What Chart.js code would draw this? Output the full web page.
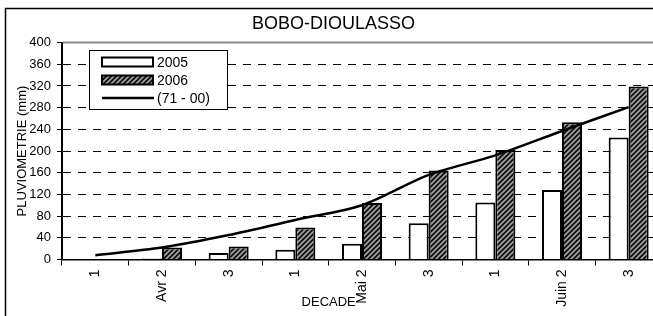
<!DOCTYPE html>
<html>
<head>
<meta charset="utf-8">
<script src="https://cdn.jsdelivr.net/npm/chart.js@4/dist/chart.umd.min.js"></script>
<style>
  html, body { margin: 0; padding: 0; background: #fff; overflow: hidden; }
  canvas { display: block; }
</style>
</head>
<body>
<canvas id="c" width="664" height="316"></canvas>
<script>
// ---- data ----
const categories = ["1", "Avr 2", "3", "1", "Mai 2", "3", "1", "Juin 2", "3"];
const rain2005 = [0.5, 2, 12, 18, 29, 67, 105, 128, 225];
const rain2006 = [1, 22, 24, 59, 104, 164, 202, 253, 319];
const normal7100 = [8, 22, 45, 73, 100, 156, 192, 237, 281];
const seriesLabels = ["2005", "2006", "(71 - 00)"];
const chartTitle = "BOBO-DIOULASSO";
const xTitle = "DECADE";
const yTitle = "PLUVIOMETRIE (mm)";

const FONT = "'Liberation Sans', Arial, sans-serif";
Chart.defaults.font.family = FONT;
Chart.defaults.color = "#000";

function makeHatch() {
  const s = 5;
  const c = document.createElement("canvas");
  c.width = s; c.height = s;
  const g = c.getContext("2d");
  g.fillStyle = "#111";
  g.fillRect(0, 0, s, s);
  g.strokeStyle = "#a0a0a0";
  g.lineWidth = 1.7;
  g.beginPath();
  g.moveTo(-1, s + 1); g.lineTo(s + 1, -1);
  g.moveTo(-2, 2); g.lineTo(2, -2);
  g.moveTo(s - 2, s + 2); g.lineTo(s + 2, s - 2);
  g.stroke();
  return g.createPattern(c, "repeat");
}
const hatch = makeHatch();

const framePlugin = {
  id: "frame",
  beforeDraw(chart) {
    const ctx = chart.ctx;
    ctx.save();
    ctx.fillStyle = "#fff";
    ctx.fillRect(0, 0, chart.width, chart.height);
    ctx.strokeStyle = "#000";
    ctx.lineWidth = 1.5;
    ctx.beginPath();
    ctx.moveTo(5.5, chart.height + 5);
    ctx.lineTo(5.5, 8.5);
    ctx.lineTo(chart.width + 5, 8.5);
    ctx.stroke();
    ctx.restore();
  },
  afterDraw(chart) {
    const ctx = chart.ctx;
    const a = chart.chartArea;
    ctx.save();
    // plot-area top border (gray)
    ctx.strokeStyle = "#8c8c8c";
    ctx.lineWidth = 2;
    ctx.beginPath();
    ctx.moveTo(a.left + 1, a.top);
    ctx.lineTo(chart.width + 5, a.top);
    ctx.stroke();
    // x axis title
    const xs = chart.scales.x;
    ctx.fillStyle = "#000";
    ctx.font = "13px " + FONT;
    ctx.textAlign = "center";
    ctx.textBaseline = "middle";
    ctx.fillText(xTitle, xs.getPixelForValue(3.5), 302);
    // legend box
    const lx = 89, ly = 50, lw = 138, lh = 59;
    ctx.fillStyle = "#fff";
    ctx.fillRect(lx, ly, lw, lh);
    ctx.strokeStyle = "#000";
    ctx.lineWidth = 1;
    ctx.strokeRect(lx + 0.5, ly + 0.5, lw, lh);
    const ds = chart.data.datasets;
    const rows = [62, 80, 98];
    ctx.font = "14px " + FONT;
    ctx.textAlign = "left";
    for (let i = 0; i < 3; i++) {
      const d = ds[i];
      const y = rows[i];
      if (d.type === "line") {
        ctx.strokeStyle = d.borderColor;
        ctx.lineWidth = 2.5;
        ctx.beginPath();
        ctx.moveTo(102, y);
        ctx.lineTo(154, y);
        ctx.stroke();
      } else {
        ctx.fillStyle = d.backgroundColor;
        ctx.fillRect(102, y - 4.5, 51, 9);
        ctx.strokeStyle = "#000";
        ctx.lineWidth = 2;
        ctx.strokeRect(102, y - 4.5, 51, 9);
      }
      ctx.fillStyle = "#000";
      ctx.fillText(d.label, 157, y + 1);
    }
    ctx.restore();
  }
};

new Chart(document.getElementById("c"), {
  data: {
    labels: categories,
    datasets: [
      {
        type: "bar", label: seriesLabels[0], data: rain2005,
        backgroundColor: "#fff", borderColor: "#000", borderWidth: 2,
        categoryPercentage: 0.6, barPercentage: 1, order: 2
      },
      {
        type: "bar", label: seriesLabels[1], data: rain2006,
        backgroundColor: hatch, borderColor: "#000", borderWidth: 2,
        categoryPercentage: 0.6, barPercentage: 1, order: 2
      },
      {
        type: "line", label: seriesLabels[2], data: normal7100,
        borderColor: "#000", borderWidth: 2.5, pointRadius: 0,
        tension: 0.3, fill: false, order: 1
      }
    ]
  },
  options: {
    responsive: false,
    animation: false,
    layout: { padding: { left: 5, top: 8, right: 2, bottom: 0 } },
    plugins: {
      legend: { display: false },
      tooltip: { enabled: false },
      title: {
        display: true, text: chartTitle, color: "#000",
        font: { size: 18, weight: "normal", family: FONT },
        padding: { top: 5, bottom: 8 }
      }
    },
    scales: {
      x: {
        type: "category",
        offset: true,
        afterFit(s) { s.height = 56.5; },
        grid: {
          offset: true, drawOnChartArea: false, drawTicks: true,
          tickLength: 6, tickColor: "#000", tickWidth: 1
        },
        border: { display: true, color: "#000", width: 1.5 },
        ticks: {
          minRotation: 90, maxRotation: 90, autoSkip: false,
          padding: 4, color: "#000", font: { size: 14 }
        }
      },
      y: {
        min: 0, max: 400,
        afterFit(s) { s.width = 57; },
        ticks: { stepSize: 40, padding: 6, color: "#000", font: { size: 13 } },
        grid: {
          color: (c) => (c.tick && (c.tick.value === 0 || c.tick.value === 400)) ? "rgba(0,0,0,0)" : "#000",
          lineWidth: 1, drawTicks: true, tickLength: 5,
          tickColor: "#000", tickWidth: 1
        },
        border: { display: true, color: "#000", width: 2, dash: [8, 7] },
        title: {
          display: true, text: yTitle, color: "#000",
          font: { size: 13 }, padding: { top: 10, bottom: 0 }
        }
      }
    }
  },
  plugins: [framePlugin]
});
</script>
</body>
</html>
